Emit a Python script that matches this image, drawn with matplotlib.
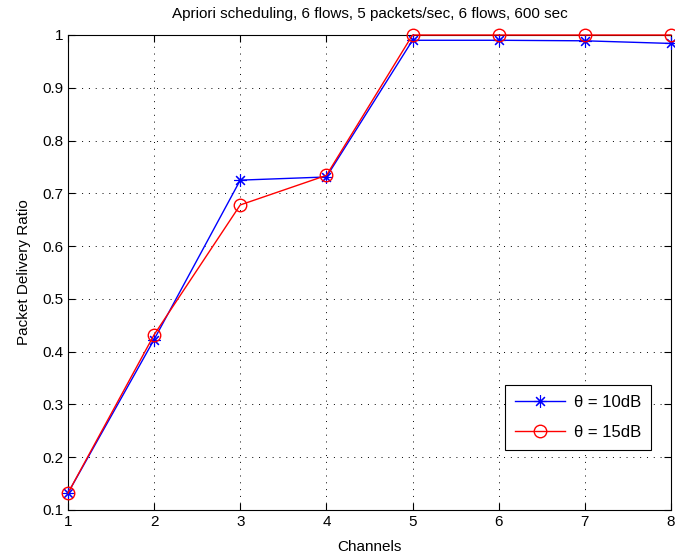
import numpy as np
import matplotlib
matplotlib.use("Agg")
import matplotlib.pyplot as plt

plt.rcParams['font.family'] = ['Liberation Sans', 'DejaVu Sans']

channels = [1, 2, 3, 4, 5, 6, 7, 8]
pdr_10dB = [0.132, 0.423, 0.725, 0.731, 0.990, 0.990, 0.989, 0.984]
pdr_15dB = [0.132, 0.432, 0.678, 0.734, 1.000, 1.000, 1.000, 1.000]

fig = plt.figure(figsize=(6.75, 5.6), dpi=100)
ax = fig.add_axes([0.1007, 0.0893, 0.8933, 0.8482])

# matlab style asterisk = plus + cross
ast = (8, 2, 0)
ax.plot(channels, pdr_10dB, color='b', marker=ast, markersize=9, linewidth=1,
        markeredgewidth=0.8, markeredgecolor='b', label='\u03b8 = 10dB', clip_on=False, zorder=3)
ax.plot(channels, pdr_15dB, color='r', marker='o', markersize=9, linewidth=1,
        markerfacecolor='none', markeredgecolor='r', label='\u03b8 = 15dB', clip_on=False, zorder=3)

ax.set_xlim(1, 8)
ax.set_ylim(0.1, 1)
ax.set_xticks(channels)
ax.set_yticks(np.arange(0.1, 1.01, 0.1))
ax.set_yticklabels(['0.1', '0.2', '0.3', '0.4', '0.5', '0.6', '0.7', '0.8', '0.9', '1'])
ax.tick_params(direction='in', top=True, right=True, labelsize=11, length=5)
ax.grid(True, linestyle=(0, (1, 6)), color='k', linewidth=0.7)

ax.set_xlabel('Channels', fontsize=11, labelpad=8)
ax.set_ylabel('Packet Delivery Ratio', fontsize=11, labelpad=8)
ax.set_title('Apriori scheduling, 6 flows, 5 packets/sec, 6 flows, 600 sec', fontsize=11, pad=12)

leg = ax.legend(loc='lower right', bbox_to_anchor=(0.967, 0.126), borderaxespad=0,
                fontsize=12, fancybox=False, edgecolor='k', framealpha=1,
                handlelength=3.0, handletextpad=0.5, borderpad=0.6, labelspacing=0.9)
leg.get_frame().set_linewidth(0.8)

fig.savefig('out.png', dpi=100)
